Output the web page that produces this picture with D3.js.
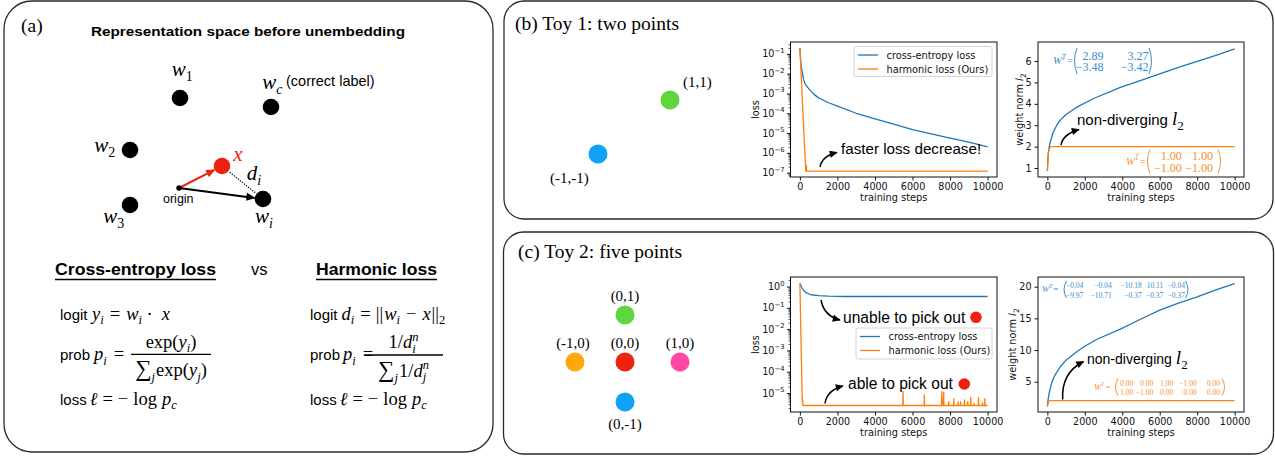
<!DOCTYPE html>
<html><head><meta charset="utf-8">
<script src="https://cdn.jsdelivr.net/npm/d3@7"></script>
<style>body{margin:0;background:#fff}svg{display:block}</style>
</head><body>
<svg id="fig" width="1275" height="456"></svg>
<script>
// ================= DATA =================
const stepTicks = [0, 2000, 4000, 6000, 8000, 10000];
const stepDomain = [-500, 10500];

// Toy 1 (two points)
const toy1Points = [
  {label: "(1,1)", x: 1, y: 1, color: "#5fd63b"},
  {label: "(-1,-1)", x: -1, y: -1, color: "#0fa2f7"}
];
const toy1LossExp = [-7, -6, -5, -4, -3, -2, -1];
const toy1CELoss = [[0,0.2],[50,0.035],[100,0.016],[200,0.005],[300,0.0028],[500,0.0016],[750,0.0009],[1000,0.0006],[1500,0.00035],[2000,0.00023],[3000,0.0001],[4000,0.000052],[5000,0.000028],[6000,0.000015],[7000,0.0000092],[8000,0.0000056],[9000,0.0000035],[10000,0.000002]];
const toy1HLLoss = [[0,0.2],[310,1.2e-7],[330,1.2e-7],[345,2.4e-7],[360,1.2e-7],[10000,1.2e-7]];
const toy1NormTicks = [1, 2, 3, 4, 5, 6];
const toy1CENorm = [[0,0.86],[20,1.3],[50,1.7],[100,2.0],[160,2.23],[300,2.65],[500,3.0],[700,3.25],[1000,3.5],[1600,3.86],[2500,4.26],[3900,4.77],[5000,5.1],[6000,5.4],[7000,5.7],[8000,5.98],[9000,6.27],[10000,6.57]];
const toy1HLNorm = [[0,0.86],[40,1.5],[80,1.85],[150,1.98],[250,2.0],[10000,2.0]];
const toy1CEMatrix = [["2.89","3.27"],["\u22123.48","\u22123.42"]];
const toy1HLMatrix = [["1.00","1.00"],["\u22121.00","\u22121.00"]];

// Toy 2 (five points)
const toy2Points = [
  {label: "(0,1)", x: 0, y: 1, color: "#5fd63b"},
  {label: "(-1,0)", x: -1, y: 0, color: "#ffa80a"},
  {label: "(0,0)", x: 0, y: 0, color: "#ee2211"},
  {label: "(1,0)", x: 1, y: 0, color: "#ff47a6"},
  {label: "(0,-1)", x: 0, y: -1, color: "#0fa2f7"}
];
const toy2LossExp = [-5, -4, -3, -2, -1, 0];
const toy2CELoss = [[0,1.4],[100,0.9],[200,0.65],[350,0.5],[600,0.41],[1000,0.37],[1500,0.35],[2500,0.34],[10000,0.34]];
const toy2HLLossBase = [[0,1.4],[125,4e-6],[140,5.5e-6],[160,2.6e-6],[10000,2.6e-6]];
const toy2HLSpikes = [[5495,1.15e-5],[6630,8.1e-6],[7560,1.15e-5],[7610,5e-6],[7660,1.1e-5],[7930,3.9e-6],[8200,5.4e-6],[8430,3.9e-6],[8560,3.9e-6],[8775,4.7e-6],[8940,3.9e-6],[9100,6.3e-6],[9280,3.3e-6],[9515,6.3e-6],[9730,3.5e-6],[9855,5.4e-6]];
const toy2NormTicks = [5, 10, 15, 20];
const toy2CENorm = [[0,1.1],[30,2.0],[80,2.9],[150,3.9],[250,5.0],[400,6.0],[700,7.4],[1000,8.4],[1600,9.8],[2000,10.6],[2650,11.7],[3900,13.3],[5000,14.9],[6000,16.3],[7000,17.4],[8000,18.4],[9000,19.5],[10000,20.5]];
const toy2HLNorm = [[0,1.1],[40,1.6],[80,1.95],[120,2.0],[10000,2.0]];
const toy2CEMatrix = [["\u22120.04","\u22120.04","\u221210.18","10.11","\u22120.04"],["\u22129.97","\u221210.71","\u22120.37","\u22120.37","\u22120.37"]];
const toy2HLMatrix = [["0.00","0.00","1.00","\u22121.00","0.00"],["1.00","\u22121.00","0.00","0.00","0.00"]];

const seriesNames = ["cross-entropy loss", "harmonic loss (Ours)"];

// Panel (a) conceptual representation space
const repWeights = [
  {sub: "1", x: 0.1, y: 9.0},
  {sub: "c", x: 9.2, y: 8.1},
  {sub: "2", x: -4.9, y: 3.8},
  {sub: "3", x: -4.9, y: -1.7},
  {sub: "i", x: 8.4, y: -1.1}
];
const repInput = {x: 4.3, y: 2.2};
const repOrigin = {x: 0, y: 0};

// ================= STYLE / LAYOUT =================
const SERIF = "'Liberation Serif','Times New Roman','DejaVu Serif',serif";
const SANS = "'Liberation Sans',Arial,Helvetica,sans-serif";
const MPL = "'DejaVu Sans',sans-serif";
const C_BLUE = "#1f77b4", C_ORANGE = "#ff7f0e";
const T_BLUE = "#3a8ccb", T_ORANGE = "#f7902e";

const svg = d3.select("#fig");
svg.append("rect").attr("width", 1275).attr("height", 456).attr("fill", "#fff");
const defs = svg.append("defs");
function marker(id, color, w, h) {
  defs.append("marker").attr("id", id).attr("viewBox", "0 0 10 10")
    .attr("refX", 9).attr("refY", 5).attr("markerWidth", w).attr("markerHeight", h)
    .attr("markerUnits", "userSpaceOnUse").attr("orient", "auto")
    .append("path").attr("d", "M0,0.5 L10,5 L0,9.5 Z").attr("fill", color);
}
marker("hBlack", "#000", 9, 8);
marker("hRed", "#ee2211", 10, 9);
marker("hBlack2", "#000", 10, 9);

// rich text helper: sequence of runs with optional sub / sup
function rich(parent, x, y, items, opt = {}) {
  const g = parent.append("g");
  let cx = 0;
  const mk = (it, px, dy) => {
    const t = g.append("text").attr("x", px).attr("y", dy)
      .style("white-space", "pre")
      .attr("font-family", it.ff || opt.ff || SERIF)
      .attr("font-size", it.fs || opt.fs || 16)
      .attr("font-style", it.i ? "italic" : "normal")
      .attr("font-weight", it.b ? "bold" : "normal")
      .attr("fill", it.fill || opt.fill || "#000")
      .text(it.t);
    return t.node().getComputedTextLength();
  };
  items.forEach(it => {
    if (it.gap !== undefined) { cx += it.gap; return; }
    const w = mk(it, cx, it.dy || 0);
    cx += w;
    if (it.sub || it.sup) {
      let w2 = 0;
      [it.sub, it.sup].forEach(s => {
        if (!s) return;
        const ss = Object.assign({ff: it.ff, fill: it.fill}, s);
        w2 = Math.max(w2, mk(ss, cx + (s.dx || 0), s.dy));
      });
      cx += w2;
    }
  });
  const a = opt.anchor || "start";
  const ox = a === "middle" ? x - cx / 2 : a === "end" ? x - cx : x;
  g.attr("transform", `translate(${ox},${y})`);
  return {g, width: cx, left: ox};
}
const I = (t, fs, e = {}) => Object.assign({t, fs, i: true}, e);
const R = (t, fs, e = {}) => Object.assign({t, fs}, e);
const S = (t, fs, e = {}) => Object.assign({t, fs, ff: SANS}, e);
const G = n => ({gap: n});
const sub = (t, fs, dy, italic = true, e = {}) => Object.assign({t, fs, dy, i: italic}, e);

// ================= PANEL BOXES =================
const boxes = [
  {x: 4, y: 1, w: 489, h: 451, r: 28},
  {x: 504, y: 1, w: 769, h: 218, r: 20},
  {x: 503.5, y: 232, w: 770, h: 222, r: 20}
];
svg.selectAll("rect.box").data(boxes).join("rect").attr("class", "box")
  .attr("x", d => d.x).attr("y", d => d.y).attr("width", d => d.w).attr("height", d => d.h)
  .attr("rx", d => d.r).attr("fill", "none").attr("stroke", "#2a2a2a").attr("stroke-width", 1.3);

// ================= PANEL (a) =================
const pa = svg.append("g");
pa.append("text").attr("x", 21).attr("y", 32).attr("font-family", SERIF).attr("font-size", 19.5).text("(a)");
pa.append("text").attr("x", 91).attr("y", 35.5).attr("font-family", SANS).attr("font-size", 13.5)
  .attr("font-weight", "bold").attr("textLength", 314).attr("lengthAdjust", "spacingAndGlyphs")
  .text("Representation space before unembedding");

const rx = d3.scaleLinear().domain([0, 1]).range([179, 189]);
const ry = d3.scaleLinear().domain([0, 1]).range([188, 178]);
const wLabelOffset = {"1": [-8.3, -22], "c": [-8.7, -17.7], "2": [-35.7, 1.7], "3": [-26.7, 18.3], "i": [-8, 23.7]};

function shortTo(from, to, cut) {
  const dx = to[0] - from[0], dy = to[1] - from[1], L = Math.hypot(dx, dy);
  return [from[0] + dx * (L - cut) / L, from[1] + dy * (L - cut) / L];
}
const o = [rx(repOrigin.x), ry(repOrigin.y)];
const xp = [rx(repInput.x), ry(repInput.y)];
const wi = repWeights.find(d => d.sub === "i");
const wip = [rx(wi.x), ry(wi.y)];
const redEnd = shortTo(o, xp, 8.5);
pa.append("line").attr("x1", o[0]).attr("y1", o[1]).attr("x2", redEnd[0]).attr("y2", redEnd[1])
  .attr("stroke", "#ee2211").attr("stroke-width", 2).attr("marker-end", "url(#hRed)");
const blkEnd = shortTo(o, wip, 8.5);
pa.append("line").attr("x1", o[0]).attr("y1", o[1]).attr("x2", blkEnd[0]).attr("y2", blkEnd[1])
  .attr("stroke", "#000").attr("stroke-width", 2).attr("marker-end", "url(#hBlack2)");
const dS = shortTo(wip, xp, 10), dE = shortTo(xp, wip, 9);
pa.append("line").attr("x1", dS[0]).attr("y1", dS[1]).attr("x2", dE[0]).attr("y2", dE[1])
  .attr("stroke", "#000").attr("stroke-width", 1.2).attr("stroke-dasharray", "1.3,1.3");

pa.selectAll("circle.w").data(repWeights).join("circle").attr("class", "w")
  .attr("cx", d => rx(d.x)).attr("cy", d => ry(d.y)).attr("r", 8.3).attr("fill", "#000");
pa.append("circle").attr("cx", xp[0]).attr("cy", xp[1]).attr("r", 8.3).attr("fill", "#ee2211");
pa.append("circle").attr("cx", o[0]).attr("cy", o[1]).attr("r", 2.7).attr("fill", "#000");

repWeights.forEach(d => {
  const off = wLabelOffset[d.sub];
  const italicSub = isNaN(+d.sub);
  rich(pa, rx(d.x) + off[0], ry(d.y) + off[1], [I("w", 21, {sub: sub(d.sub, 14, 5, italicSub)})]);
});
pa.append("text").attr("x", 286).attr("y", 86).attr("font-family", SANS).attr("font-size", 14.5).text("(correct label)");
rich(pa, xp[0] + 11.3, xp[1] - 5.3, [I("x", 21, {fill: "#ee2211"})]);
rich(pa, xp[0] + 24.7, xp[1] + 14, [I("d", 21, {sub: sub("i", 14, 5)})]);
pa.append("text").attr("x", 163).attr("y", 203).attr("font-family", SANS).attr("font-size", 12.5).text("origin");

function heading(x, y, txt, width) {
  pa.append("text").attr("x", x).attr("y", y).attr("font-family", SANS).attr("font-size", 16.5)
    .attr("font-weight", "bold").attr("textLength", width).attr("lengthAdjust", "spacingAndGlyphs").text(txt);
  pa.append("line").attr("x1", x).attr("x2", x + width).attr("y1", y + 4.5).attr("y2", y + 4.5)
    .attr("stroke", "#000").attr("stroke-width", 1.5);
}
heading(55, 275, "Cross-entropy loss", 161);
heading(316, 275, "Harmonic loss", 121);
pa.append("text").attr("x", 251).attr("y", 275).attr("font-family", SANS).attr("font-size", 16.5).text("vs");

const MS = 18.5, SS = 15, BS = 12.5, SIG = 23;
const si = t => sub(t, BS, 4.5);
// left formulas
rich(pa, 60, 319.5, [S("logit", SS), G(4.5), I("y", MS, {sub: si("i")}), G(6), R("=", MS), G(6), I("w", MS, {sub: si("i")}), G(4.5), R("\u00b7", MS), G(9), I("x", MS)]);
rich(pa, 60, 360, [S("prob", SS), G(4), I("p", MS, {sub: si("i")}), G(7), R("=", MS)]);
rich(pa, 171, 347.5, [R("exp(", MS), I("y", MS, {sub: si("i")}), R(")", MS)], {anchor: "middle"});
pa.append("line").attr("x1", 131).attr("x2", 211).attr("y1", 354.3).attr("y2", 354.3).attr("stroke", "#000").attr("stroke-width", 1.3);
rich(pa, 171, 376, [R("\u2211", SIG, {sub: sub("j", BS, 5)}), G(1), R("exp(", MS), I("y", MS, {sub: si("j")}), R(")", MS)], {anchor: "middle"});
rich(pa, 60, 404.5, [S("loss", SS), G(3), I("\u2113", MS), G(5), R("=", MS), G(5), R("\u2212", MS), G(5), R("log", MS), G(5), I("p", MS, {sub: si("c")})]);
// right formulas
rich(pa, 310, 319.5, [S("logit", SS), G(4), I("d", MS, {sub: si("i")}), G(6), R("=", MS), G(5), R("||", MS), G(1), I("w", MS, {sub: si("i")}), G(6), R("\u2212", MS), G(6), I("x", MS), G(1), R("||", MS, {sub: sub("2", BS, 4.5, false)})]);
rich(pa, 310, 360, [S("prob", SS), G(3), I("p", MS, {sub: si("i")}), G(7), R("=", MS)]);
rich(pa, 403.5, 348, [R("1/", MS), I("d", MS, {sub: si("i"), sup: sub("n", BS, -7.5)})], {anchor: "middle"});
pa.append("line").attr("x1", 364).attr("x2", 443).attr("y1", 355).attr("y2", 355).attr("stroke", "#000").attr("stroke-width", 1.3);
rich(pa, 403.5, 376.5, [R("\u2211", SIG, {sub: sub("j", BS, 5)}), G(1), R("1/", MS), I("d", MS, {sub: si("j"), sup: sub("n", BS, -7.5)})], {anchor: "middle"});
rich(pa, 310, 404.5, [S("loss", SS), G(3), I("\u2113", MS), G(5), R("=", MS), G(5), R("\u2212", MS), G(5), R("log", MS), G(5), I("p", MS, {sub: si("c")})]);

// ================= TOY POINT DIAGRAMS =================
const pb = svg.append("g");
pb.append("text").attr("x", 515).attr("y", 30).attr("font-family", SERIF).attr("font-size", 19.5).text("(b) Toy 1: two points");
const t1x = d3.scaleLinear().domain([-1, 1]).range([598, 670]);
const t1y = d3.scaleLinear().domain([-1, 1]).range([154, 100]);
pb.selectAll("circle").data(toy1Points).join("circle")
  .attr("cx", d => t1x(d.x)).attr("cy", d => t1y(d.y)).attr("r", 9.5).attr("fill", d => d.color);
const t1LabelPos = {"(1,1)": [13, -13], "(-1,-1)": [-48, 29]};
pb.selectAll("text.pl").data(toy1Points).join("text").attr("class", "pl")
  .attr("x", d => t1x(d.x) + t1LabelPos[d.label][0]).attr("y", d => t1y(d.y) + t1LabelPos[d.label][1])
  .attr("font-family", SERIF).attr("font-size", 15).text(d => d.label);

const pc = svg.append("g");
pc.append("text").attr("x", 518).attr("y", 258).attr("font-family", SERIF).attr("font-size", 19.5).text("(c) Toy 2: five points");
const t2x = d3.scaleLinear().domain([-1, 0, 1]).range([575, 625, 680]);
const t2y = d3.scaleLinear().domain([-1, 0, 1]).range([402, 362, 315]);
pc.selectAll("circle").data(toy2Points).join("circle")
  .attr("cx", d => t2x(d.x)).attr("cy", d => t2y(d.y)).attr("r", 9.5).attr("fill", d => d.color);
pc.selectAll("text.pl").data(toy2Points).join("text").attr("class", "pl")
  .attr("x", d => t2x(d.x) - (d.label === "(-1,0)" ? 2 : 0)).attr("y", d => t2y(d.y) + (d.y < 0 ? 27 : -14))
  .attr("text-anchor", "middle").attr("font-family", SERIF).attr("font-size", 15).text(d => d.label);

// ================= CHARTS =================
function chart(cfg) {
  const g = svg.append("g");
  const x = d3.scaleLinear().domain(stepDomain).range([cfg.x0, cfg.x1]);
  const y = (cfg.log ? d3.scaleLog() : d3.scaleLinear()).domain(cfg.yDomain).range([cfg.y1, cfg.y0]);
  const line = d3.line().x(d => x(d[0])).y(d => y(d[1]));
  cfg.series.forEach(s => g.append("path").attr("d", line(s.data)).attr("fill", "none")
    .attr("stroke", s.color).attr("stroke-width", 1.3).attr("stroke-linejoin", "round"));
  g.append("rect").attr("x", cfg.x0).attr("y", cfg.y0).attr("width", cfg.x1 - cfg.x0).attr("height", cfg.y1 - cfg.y0)
    .attr("fill", "none").attr("stroke", "#111").attr("stroke-width", 1);
  const xa = g.append("g").attr("transform", `translate(0,${cfg.y1})`)
    .call(d3.axisBottom(x).tickValues(stepTicks).tickSize(3.5).tickPadding(2.5).tickFormat(d3.format("d")));
  xa.select(".domain").remove();
  xa.attr("font-family", MPL).attr("font-size", 9.6);
  xa.selectAll("text").attr("fill", "#111");
  xa.selectAll("line").attr("stroke", "#111");
  if (cfg.log) {
    const majors = cfg.yExp.map(e => Math.pow(10, e));
    const ya = g.append("g").attr("transform", `translate(${cfg.x0},0)`)
      .call(d3.axisLeft(y).tickValues(majors).tickSize(3.5).tickFormat(""));
    ya.select(".domain").remove(); ya.selectAll("line").attr("stroke", "#111");
    const [lo, hi] = cfg.yDomain;
    const minors = [];
    for (let e = Math.floor(Math.log10(lo)); e <= Math.ceil(Math.log10(hi)); e++)
      for (let m = 2; m <= 9; m++) { const v = m * Math.pow(10, e); if (v >= lo && v <= hi) minors.push(v); }
    const ym = g.append("g").attr("transform", `translate(${cfg.x0},0)`)
      .call(d3.axisLeft(y).tickValues(minors).tickSize(2).tickFormat(""));
    ym.select(".domain").remove(); ym.selectAll("line").attr("stroke", "#111").attr("stroke-width", 0.7);
    cfg.yExp.forEach(e => {
      rich(g, cfg.x0 - 6, y(Math.pow(10, e)) + 3.6,
        [R("10", 9.6, {ff: MPL, fill: "#111", sup: {t: (e < 0 ? "\u2212" : "") + Math.abs(e), fs: 6.8, dy: -4.6, ff: MPL, fill: "#111"}})],
        {anchor: "end"});
    });
  } else {
    const ya = g.append("g").attr("transform", `translate(${cfg.x0},0)`)
      .call(d3.axisLeft(y).tickValues(cfg.yTicks).tickSize(3.5).tickPadding(3).tickFormat(d3.format("d")));
    ya.select(".domain").remove();
    ya.attr("font-family", MPL).attr("font-size", 9.6);
    ya.selectAll("text").attr("fill", "#111");
    ya.selectAll("line").attr("stroke", "#111");
  }
  g.append("text").attr("x", (cfg.x0 + cfg.x1) / 2).attr("y", cfg.y1 + 24).attr("text-anchor", "middle")
    .attr("font-family", MPL).attr("font-size", 9.8).attr("fill", "#111").text("training steps");
  const yl = g.append("g").attr("transform", `translate(${cfg.ylx},${(cfg.y0 + cfg.y1) / 2}) rotate(-90)`);
  if (cfg.ylabel === "loss") {
    rich(yl, 0, 0, [R("loss", 9.8, {ff: MPL, fill: "#111"})], {anchor: "middle"});
  } else {
    rich(yl, 0, 0, [R("weight norm ", 9.8, {ff: MPL, fill: "#111"}), I("l", 10.5, {ff: MPL, fill: "#111", sub: {t: "2", fs: 7.5, dy: 2.5, ff: MPL, fill: "#111"}})], {anchor: "middle"});
  }
  if (cfg.legend) {
    const L = cfg.legend;
    g.append("rect").attr("x", L.x).attr("y", L.y).attr("width", L.w).attr("height", L.h).attr("rx", 2)
      .attr("fill", "#fff").attr("fill-opacity", 0.8).attr("stroke", "#d0d0d0").attr("stroke-width", 0.9);
    cfg.series.forEach((s, i) => {
      const cy = L.y + 8.5 + i * 14;
      g.append("line").attr("x1", L.x + 4).attr("x2", L.x + 24).attr("y1", cy).attr("y2", cy)
        .attr("stroke", s.color).attr("stroke-width", 1.3);
      g.append("text").attr("x", L.x + 32.5).attr("y", cy + 3.5).attr("font-family", MPL).attr("font-size", 9.8)
        .attr("fill", "#111").text(s.name);
    });
  }
  return {g, x, y};
}

function withSpikes(base, spikes) {
  const pts = base.slice(0, base.length - 1);
  const floor = base[base.length - 1][1];
  spikes.forEach(([s, v]) => { pts.push([s - 12, floor], [s, v], [s + 12, floor]); });
  pts.push(base[base.length - 1]);
  return pts.sort((a, b) => a[0] - b[0]);
}

chart({x0: 790.5, x1: 997, y0: 42, y1: 177, log: true, yDomain: [Math.pow(10, -7.22), Math.pow(10, -0.4)], yExp: toy1LossExp,
  series: [{name: seriesNames[0], color: C_BLUE, data: toy1CELoss}, {name: seriesNames[1], color: C_ORANGE, data: toy1HLLoss}],
  ylabel: "loss", ylx: 759, legend: {x: 854, y: 46.5, w: 138, h: 30}});
chart({x0: 1038, x1: 1244, y0: 42, y1: 177, log: false, yDomain: [0.58, 6.89], yTicks: toy1NormTicks,
  series: [{name: seriesNames[0], color: C_BLUE, data: toy1CENorm}, {name: seriesNames[1], color: C_ORANGE, data: toy1HLNorm}],
  ylabel: "norm", ylx: 1023});
chart({x0: 790.5, x1: 997, y0: 277, y1: 412, log: true, yDomain: [Math.pow(10, -5.89), Math.pow(10, 0.446)], yExp: toy2LossExp,
  series: [{name: seriesNames[0], color: C_BLUE, data: toy2CELoss}, {name: seriesNames[1], color: C_ORANGE, data: withSpikes(toy2HLLossBase, toy2HLSpikes)}],
  ylabel: "loss", ylx: 759, legend: {x: 856, y: 328, w: 136, h: 31}});
chart({x0: 1038, x1: 1244, y0: 277, y1: 412, log: false, yDomain: [0.215, 21.53], yTicks: toy2NormTicks,
  series: [{name: seriesNames[0], color: C_BLUE, data: toy2CENorm}, {name: seriesNames[1], color: C_ORANGE, data: toy2HLNorm}],
  ylabel: "norm", ylx: 1016});

// ================= ANNOTATIONS =================
const ann = svg.append("g");
function curvedArrow(p0, c, p1, id = "hBlack") {
  ann.append("path").attr("d", `M${p0[0]},${p0[1]} Q${c[0]},${c[1]} ${p1[0]},${p1[1]}`)
    .attr("fill", "none").attr("stroke", "#000").attr("stroke-width", 1.5).attr("marker-end", `url(#${id})`);
}
ann.append("text").attr("x", 841).attr("y", 154).attr("font-family", SANS).attr("font-size", 15.2).text("faster loss decrease!");
curvedArrow([820, 167], [822, 156], [837, 152.5]);
rich(ann, 1077, 124.5, [S("non-diverging", 15), G(4), I("l", 19, {sub: sub("2", 13, 5, false)})]);
curvedArrow([1061, 145], [1063, 134], [1079, 129.5]);
ann.append("text").attr("x", 843).attr("y", 322.7).attr("font-family", SANS).attr("font-size", 15.6).text("unable to pick out");
ann.append("circle").attr("cx", 976).attr("cy", 317.3).attr("r", 5.8).attr("fill", "#ee2211");
curvedArrow([821, 300], [824, 316], [840, 320]);
ann.append("text").attr("x", 848).attr("y", 389.3).attr("font-family", SANS).attr("font-size", 15.6).text("able to pick out");
ann.append("circle").attr("cx", 964.3).attr("cy", 384).attr("r", 5.8).attr("fill", "#ee2211");
curvedArrow([825, 403.5], [827, 390], [843, 386]);
rich(ann, 1087, 364, [S("non-diverging", 14), G(4), I("l", 19, {sub: sub("2", 13, 5, false)})]);
curvedArrow([1062.7, 399.5], [1061, 373], [1083.5, 361.5]);

// matrices
function matrix(m) {
  rich(ann, m.wx, m.cy + m.wfs * 0.33, [I("W", m.wfs, {fill: m.color, sup: {t: "T", fs: m.wfs * 0.7, dy: -m.wfs * 0.45, i: true}}), G(m.wfs * 0.12), R("=", m.wfs, {fill: m.color})]);
  const h = m.ph;
  ann.append("path").attr("d", `M${m.pl + 3},${m.cy - h / 2} Q${m.pl - 2},${m.cy} ${m.pl + 3},${m.cy + h / 2}`)
    .attr("fill", "none").attr("stroke", m.color).attr("stroke-width", 1);
  ann.append("path").attr("d", `M${m.pr - 3},${m.cy - h / 2} Q${m.pr + 2},${m.cy} ${m.pr - 3},${m.cy + h / 2}`)
    .attr("fill", "none").attr("stroke", m.color).attr("stroke-width", 1);
  m.data.forEach((row, ri) => row.forEach((v, ci) => {
    ann.append("text").attr("x", m.cols[ci]).attr("y", m.rowsY[ri]).attr("text-anchor", "end")
      .attr("font-family", SERIF).attr("font-size", m.fs).attr("fill", m.color).text(v);
  }));
}
matrix({data: toy1CEMatrix, color: T_BLUE, fs: 12, wfs: 10.5, wx: 1053, cy: 61, pl: 1074, pr: 1152, ph: 26, cols: [1103.5, 1148.5], rowsY: [59.5, 71]});
matrix({data: toy1HLMatrix, color: T_ORANGE, fs: 12, wfs: 10.5, wx: 1126, cy: 161.5, pl: 1147, pr: 1221, ph: 24, cols: [1181.7, 1213], rowsY: [160, 171.5]});
matrix({data: toy2CEMatrix, color: T_BLUE, fs: 7.5, wfs: 8.5, wx: 1042, cy: 289.5, pl: 1063.5, pr: 1188.5, ph: 17, cols: [1083.3, 1111.7, 1141.7, 1163.3, 1185], rowsY: [288, 297.5]});
matrix({data: toy2HLMatrix, color: T_ORANGE, fs: 7.5, wfs: 8.5, wx: 1094, cy: 387, pl: 1115, pr: 1225, ph: 17, cols: [1133.3, 1153.3, 1173.3, 1196.7, 1220], rowsY: [385.5, 395]});
</script>
</body></html>
